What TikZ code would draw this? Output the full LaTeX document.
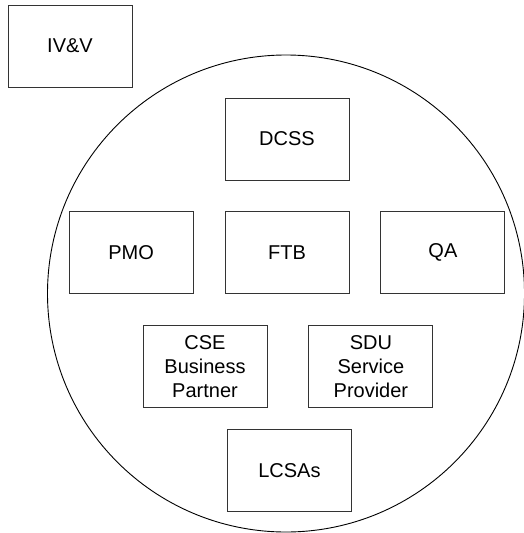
\documentclass[tikz,border=0pt]{standalone}
\usepackage{fontspec}
\setmainfont{Liberation Sans}
\usetikzlibrary{positioning}

\begin{document}
\begin{tikzpicture}[
    x=1pt, y=-1pt,
    node distance=31pt,
    unit/.style={
        rectangle,
        draw=black!80,
        line width=0.9pt,
        minimum width=124pt,
        minimum height=82pt,
        align=center,
        font=\fontsize{20}{24}\selectfont
    },
    boundary/.style={
        circle,
        draw,
        line width=0.9pt,
        inner sep=0pt,
        minimum size=477pt
    }
]
    \useasboundingbox (0,0) rectangle (524,533);

    \node[boundary] (org) at (286,293.5) {};
    \node[unit] (ivv) at (70,46) {IV\&V};

    \node[unit] (dcss) at (287,139) {DCSS};
    \node[unit, below=of dcss] (ftb) {FTB};
    \node[unit, left=of ftb] (pmo) {PMO};
    \node[unit, right=of ftb] (qa) {QA};
    \node[unit, below=31pt of ftb, xshift=-82pt] (cse) {CSE\\Business\\Partner};
    \node[unit, right=41pt of cse] (sdu) {SDU\\Service\\Provider};
    \node[unit, below=21pt of cse.south east, xshift=22pt] (lcsa) {LCSAs};

\end{tikzpicture}
\end{document}
